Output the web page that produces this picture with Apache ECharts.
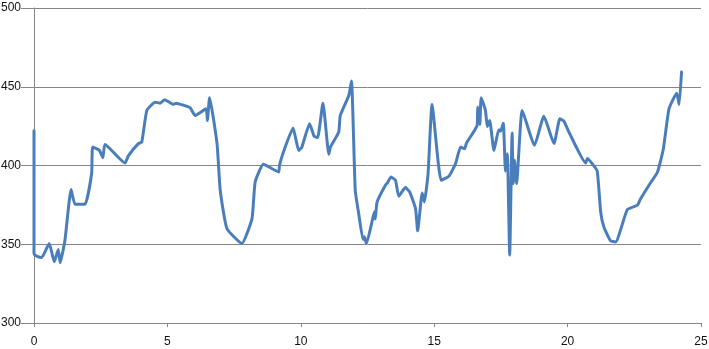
<!DOCTYPE html>
<html>
<head>
<meta charset="utf-8">
<script src="https://cdn.jsdelivr.net/npm/echarts@6/dist/echarts.min.js"></script>
<style>html,body{margin:0;padding:0;background:#fff}#c{width:709px;height:349px}</style>
</head>
<body>
<div id="c"></div>
<script>
const xValues = [0,0,0.1,0.29,0.57,0.76,0.91,0.98,1.16,1.39,1.54,1.91,2.16,2.2,2.45,2.58,2.66,3.41,3.54,3.91,4.04,4.23,4.54,4.73,4.9,5.23,5.33,5.6,5.85,6.04,6.45,6.5,6.58,6.86,6.98,7.23,7.79,8.17,8.29,8.6,9.17,9.2,9.35,9.71,9.92,10.04,10.33,10.5,10.63,10.83,11.05,11.11,11.42,11.48,11.8,11.9,12.04,12.17,12.33,12.38,12.46,12.71,12.76,12.79,12.86,13.17,13.25,13.38,13.55,13.67,13.92,14.08,14.3,14.38,14.55,14.63,14.77,14.92,15.26,15.55,15.8,15.99,16.14,16.21,16.61,16.63,16.71,16.76,16.92,16.99,17.08,17.24,17.42,17.49,17.59,17.67,17.74,17.83,17.92,17.96,18.01,18.09,18.3,18.76,19.11,19.49,19.71,19.86,20.05,20.68,20.74,20.92,21.11,21.24,21.36,21.61,21.8,22.24,22.62,22.72,23.05,23.37,23.59,23.8,24.09,24.18,24.27];
const yValues = [422,344,342.5,341.6,350.5,338.9,346.7,338.2,352.6,384.7,375.4,375.4,394.9,411.7,409.6,405,413.4,401.6,406.3,413.9,414.9,435,440.2,439.6,441.8,438.8,439.6,438.3,436.7,431.8,436,428.6,443,413.9,384.3,360,350.5,366.3,389.5,400.8,395.9,400.1,408.6,423.8,409.6,411.7,426.5,418.5,417.7,439.6,407.1,411.7,421.2,431.8,444.5,453.6,384.3,369.5,353,354.7,350.5,367.4,370.5,366,376.9,387.5,389,392.7,390.6,380.5,386,383.2,372.7,358.5,382.6,376.9,394.9,438.8,390.6,393.2,401.2,411.7,410.7,414.3,425.5,437.1,426.1,443,435,424.8,428.6,409.6,422.7,421.8,426.9,396.5,407.5,343.1,420.6,388.5,403.3,388.5,435,412.8,431.2,413.9,429.7,428.2,421.2,401.6,404.4,401.2,396.5,370.5,361,352.2,351.5,372,374.8,378.4,387.5,395.9,410.7,436,445.9,438.8,459.3];
const xTicks = [0,5,10,15,20,25];
const yTicks = [300,350,400,450,500];

const seriesData = xValues.map((x, i) => [x, yValues[i]]);
const chart = echarts.init(document.getElementById('c'), null, {renderer: 'canvas'});
const axisColor = '#868686';
const labelStyle = {color: '#111', fontSize: 12, fontFamily: 'Liberation Sans, Arial, sans-serif'};
chart.setOption({
  animation: false,
  grid: {left: 34, right: 8, top: 8, bottom: 26, containLabel: false, outerBoundsMode: 'none'},
  xAxis: {
    type: 'value', min: xTicks[0], max: xTicks[xTicks.length-1], interval: 5,
    axisLine: {show: true, lineStyle: {color: axisColor, width: 1}},
    axisTick: {show: true, length: 4, lineStyle: {color: axisColor}},
    axisLabel: Object.assign({margin: 13}, labelStyle),
    splitLine: {show: false}
  },
  yAxis: {
    type: 'value', min: yTicks[0], max: yTicks[yTicks.length-1], interval: 50,
    axisLine: {show: true, lineStyle: {color: axisColor, width: 1}},
    axisTick: {show: true, length: 13, lineStyle: {color: axisColor}},
    axisLabel: Object.assign({margin: 13}, labelStyle),
    splitLine: {show: true, lineStyle: {color: axisColor, width: 1}}
  },
  series: [{
    type: 'line', data: seriesData, showSymbol: false, smooth: 0.15,
    lineStyle: {color: '#4A7EBB', width: 3, join: 'round', cap: 'round'},
    itemStyle: {color: '#4A7EBB'}
  }]
});
</script>
</body>
</html>
